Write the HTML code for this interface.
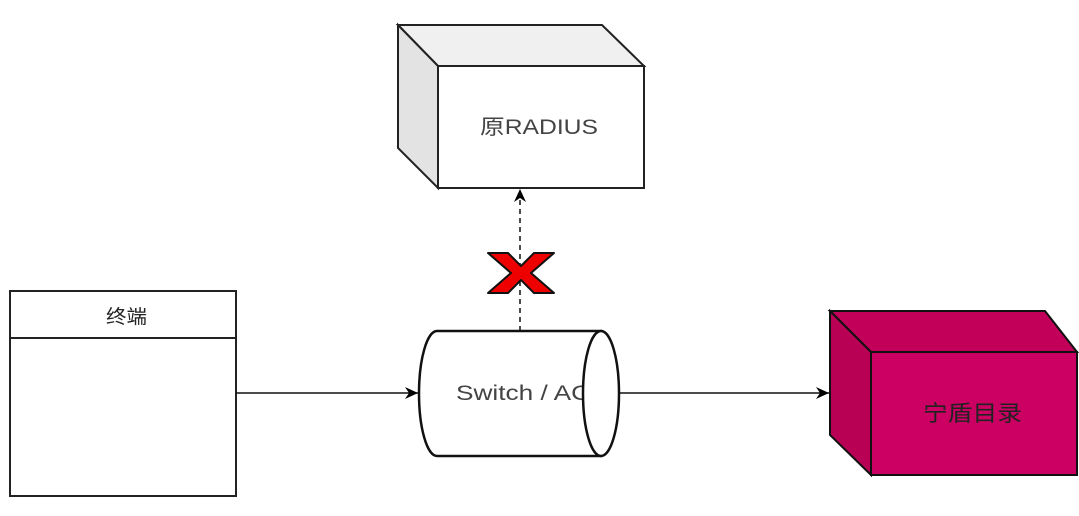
<!DOCTYPE html>
<html><head><meta charset="utf-8"><style>body{margin:0;background:#fff}svg{display:block}</style></head><body>
<svg width="1079" height="516" viewBox="0 0 1079 516" xmlns="http://www.w3.org/2000/svg" font-family="'Liberation Sans','Noto Sans CJK SC',sans-serif">
<defs><marker id="a" markerWidth="14" markerHeight="12" refX="13" refY="6" orient="auto" markerUnits="userSpaceOnUse"><path d="M0,0 L13,6 L0,12 L4,6 Z" fill="#000"/></marker></defs>
<!-- RADIUS box -->
<path d="M398,25 L602,25 L644,66 L438,66 Z" fill="#f0f0f0" stroke="#222" stroke-width="2"/>
<path d="M398,25 L438,66 L438,188 L398,148 Z" fill="#e3e3e3" stroke="#222" stroke-width="2"/>
<rect x="438" y="66" width="206" height="122" fill="#fff" stroke="#222" stroke-width="2"/>
<text x="480" y="134" font-size="21" textLength="118" lengthAdjust="spacingAndGlyphs" fill="#444">原RADIUS</text>
<!-- Ningdun box -->
<path d="M830,311 L1045,311 L1077,352 L871,352 Z" fill="#c2005a" stroke="#111" stroke-width="2"/>
<path d="M830,311 L871,352 L871,475 L830,435 Z" fill="#b80055" stroke="#111" stroke-width="2"/>
<rect x="871" y="352" width="206" height="123" fill="#cc0063" stroke="#111" stroke-width="2"/>
<text x="923" y="421" font-size="22" textLength="99" lengthAdjust="spacingAndGlyphs" fill="#222">宁盾目录</text>
<!-- terminal -->
<rect x="10" y="291" width="226" height="205" fill="#fff" stroke="#222" stroke-width="2"/>
<line x1="10" y1="338" x2="236" y2="338" stroke="#222" stroke-width="2"/>
<text x="106" y="323" font-size="19" textLength="41" lengthAdjust="spacingAndGlyphs" fill="#222">终端</text>
<!-- cylinder -->
<path d="M437,331 L601,331 L601,456 L437,456 A18,62.5 0 0 1 437,331 Z" fill="#fff" stroke="#111" stroke-width="2.5"/>
<text x="456" y="400" font-size="21" textLength="134" lengthAdjust="spacingAndGlyphs" fill="#444">Switch / AC</text>
<ellipse cx="601" cy="393.5" rx="18" ry="62.5" fill="#fff" stroke="#111" stroke-width="2.5"/>
<!-- edges -->
<line x1="236" y1="393" x2="418" y2="393" stroke="#111" stroke-width="1.5" marker-end="url(#a)"/>
<line x1="619" y1="393" x2="829" y2="393" stroke="#111" stroke-width="1.5" marker-end="url(#a)"/>
<line x1="520" y1="331" x2="520" y2="189" stroke="#111" stroke-width="1.5" stroke-dasharray="5,4" marker-end="url(#a)"/>
<!-- X -->
<path d="M488,253 L508,253 L521,266 L534,253 L554,253 L531,273 L554,293 L534,293 L521,280 L508,293 L488,293 L511,273 Z" fill="#ee0000" stroke="#111" stroke-width="2" stroke-linejoin="round"/>
</svg>
</body></html>
